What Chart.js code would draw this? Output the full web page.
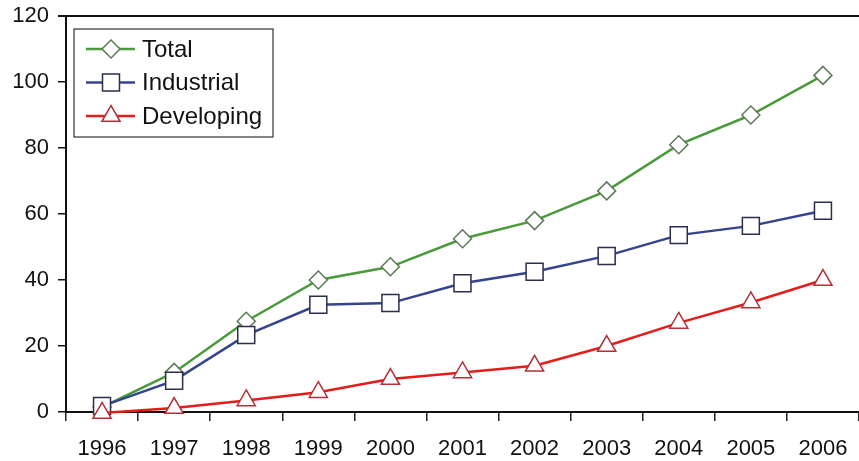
<!DOCTYPE html>
<html>
<head>
<meta charset="utf-8">
<script src="https://cdn.jsdelivr.net/npm/chart.js@4/dist/chart.umd.min.js"></script>
<style>
  html, body { margin: 0; padding: 0; background: #fff; }
  #wrap { width: 859px; height: 461px; position: relative; }
</style>
</head>
<body>
<div id="wrap"><canvas id="growthChart" width="859" height="461"></canvas></div>
<script>
// years on the x axis
const years = ['1996', '1997', '1998', '1999', '2000', '2001', '2002', '2003', '2004', '2005', '2006'];

// series values
const totalValues = [1.5, 12, 27.5, 40, 44, 52.5, 58, 67, 81, 90, 102];
const industrialValues = [1.8, 9.5, 23.3, 32.5, 33, 39, 42.5, 47.3, 53.6, 56.4, 61];
const developingValues = [-0.3, 1.2, 3.5, 6, 10, 12, 14, 20, 27, 33.2, 40];

const yTicks = [0, 20, 40, 60, 80, 100, 120];

const FONT = 'Liberation Sans, Arial, sans-serif';

// draw order: Developing on top, Total underneath
const series = [
    { label: 'Total', data: totalValues, color: '#4a9a3c', edge: '#5a7a55', style: 'rectRot', radius: 9, order: 2 },
    { label: 'Industrial', data: industrialValues, color: '#34448e', edge: '#2a2f4a', style: 'rect', radius: 12, order: 1 },
    { label: 'Developing', data: developingValues, color: '#e41c1a', edge: '#b03038', style: 'triangle', radius: 10.5, order: 0 }
];

// scales reserve room for their outer labels; the plot runs edge to edge here
function noPadding(scale) {
    scale.paddingLeft = 0;
    scale.paddingRight = 0;
    scale.paddingTop = 0;
    scale.paddingBottom = 0;
}

// top frame line and the boxed legend in the upper left
const framePlugin = {
    id: 'frame',
    afterDraw(chart) {
        const ctx = chart.ctx;
        const area = chart.chartArea;
        ctx.save();
        ctx.strokeStyle = '#111';
        ctx.lineWidth = 2;
        ctx.beginPath();
        ctx.moveTo(area.left - 8, area.top);
        ctx.lineTo(chart.width, area.top);
        ctx.stroke();

        // legend box
        const bx = 74, by = 29, bw = 199, bh = 108;
        ctx.fillStyle = '#fff';
        ctx.fillRect(bx, by, bw, bh);
        ctx.strokeStyle = '#333';
        ctx.lineWidth = 1.2;
        ctx.strokeRect(bx, by, bw, bh);

        ctx.font = '24px ' + FONT;
        ctx.textBaseline = 'middle';
        series.forEach((s, i) => {
            const y = 49 + i * 33.5;
            ctx.strokeStyle = s.color;
            ctx.lineWidth = 2.5;
            ctx.beginPath();
            ctx.moveTo(86, y);
            ctx.lineTo(135, y);
            ctx.stroke();
            ctx.fillStyle = '#fff';
            ctx.strokeStyle = s.edge;
            ctx.lineWidth = 1.5;
            Chart.helpers.drawPoint(ctx, { pointStyle: s.style, radius: s.radius, borderWidth: 1.5 }, 111, y);
            ctx.fillStyle = '#111';
            ctx.fillText(s.label, 142, y + 1);
        });
        ctx.restore();
    }
};

const ctx = document.getElementById('growthChart').getContext('2d');
new Chart(ctx, {
    type: 'line',
    data: {
        labels: years,
        datasets: series.map(s => ({
            label: s.label,
            data: s.data,
            order: s.order,
            borderColor: s.color,
            borderWidth: 2.5,
            pointStyle: s.style,
            pointRadius: s.radius,
            pointBackgroundColor: '#fff',
            pointBorderColor: s.edge,
            pointBorderWidth: 1.5,
            tension: 0,
            clip: false
        }))
    },
    options: {
        responsive: false,
        animation: false,
        events: [],
        layout: { autoPadding: false, padding: { top: 16, right: -2, left: 0, bottom: 0 } },
        plugins: {
            legend: { display: false },
            tooltip: { enabled: false }
        },
        scales: {
            x: {
                offset: true,
                grid: { offset: true, drawOnChartArea: false, color: '#222', tickLength: 9, lineWidth: 1.5 },
                border: { color: '#111', width: 2 },
                ticks: { color: '#111', font: { family: FONT, size: 22 }, padding: 15, maxRotation: 0 },
                afterFit(scale) {
                    scale.height = 49;
                    noPadding(scale);
                }
            },
            y: {
                min: 0,
                max: 120,
                afterBuildTicks(scale) { scale.ticks = yTicks.map(v => ({ value: v })); },
                grid: { drawOnChartArea: false, color: '#111', tickLength: 8, lineWidth: 1.5 },
                border: { color: '#111', width: 2 },
                ticks: { color: '#111', font: { family: FONT, size: 22 }, padding: 9 },
                afterFit(scale) {
                    scale.width = 66;
                    noPadding(scale);
                }
            }
        }
    },
    plugins: [framePlugin]
});
</script>
</body>
</html>
